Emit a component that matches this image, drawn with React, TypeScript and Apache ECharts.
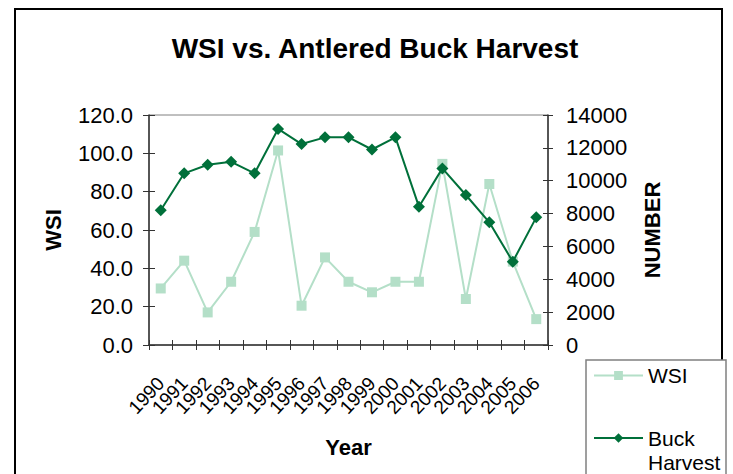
import React, { useEffect, useRef } from "react";
import * as echarts from "echarts";

const years = ["1990", "1991", "1992", "1993", "1994", "1995", "1996", "1997", "1998", "1999", "2000", "2001", "2002", "2003", "2004", "2005", "2006"];
const wsiValues = [29.5, 44, 17, 33, 59, 101.5, 20.5, 45.7, 33, 27.5, 33, 33, 94.5, 24, 84, 43.5, 13.5];
const buckValues = [8200, 10450, 10970, 11150, 10450, 13150, 12230, 12640, 12640, 11900, 12640, 8420, 10750, 9130, 7470, 5070, 7770];

const FONT = "'Liberation Sans', Arial, sans-serif";
const DARK = "#00703a";
const LIGHT = "#b4dfc8";

export default function App() {
  const ref = useRef<HTMLDivElement>(null);
  useEffect(() => {
    if (!ref.current) return;
    const chart = echarts.init(ref.current, null, { renderer: "svg" });
    const axisLine = { show: true, lineStyle: { color: "#333", width: 1.5 } };
    chart.setOption({
      animation: false,
      backgroundColor: "#fff",
      textStyle: { fontFamily: FONT },
      title: {
        text: "WSI vs. Antlered Buck Harvest",
        left: 370,
        textAlign: "center",
        top: 29,
        textStyle: { fontFamily: FONT, fontWeight: "bold", fontSize: 28, color: "#000" },
      },
      grid: {
        left: 149,
        right: 185,
        top: 115,
        bottom: 129,
        show: true,
        borderColor: "#808080",
        borderWidth: 1,
      },
      legend: [
        {
          data: ["WSI"],
          left: 593,
          top: 365,
          padding: 0,
          itemWidth: 49,
          itemHeight: 11,
          textStyle: { fontFamily: FONT, fontSize: 21, color: "#000" },
        },
        {
          data: ["Buck Harvest"],
          left: 593,
          top: 402,
          padding: 0,
          itemWidth: 49,
          itemHeight: 12,
          formatter: () => "\nBuck\nHarvest",
          textStyle: { fontFamily: FONT, fontSize: 21, color: "#000", lineHeight: 24 },
        },
      ],
      xAxis: [
        {
          type: "category",
          data: years,
          boundaryGap: true,
          position: "bottom",
          name: "Year",
          nameLocation: "middle",
          nameGap: 91,
          nameTextStyle: { fontFamily: FONT, fontWeight: "bold", fontSize: 22, color: "#000" },
          axisLine,
          axisTick: { show: true, alignWithLabel: false, interval: 0, length: 5, lineStyle: { color: "#333" } },
          axisLabel: { interval: 0, rotate: 47, margin: 35, fontFamily: FONT, fontSize: 19, color: "#000" },
          splitLine: { show: false },
        },
        {
          type: "category",
          data: years,
          boundaryGap: true,
          position: "bottom",
          axisLine: { show: false },
          axisTick: { show: true, inside: true, interval: 0, length: 5, lineStyle: { color: "#333" } },
          axisLabel: { show: false },
          splitLine: { show: false },
        },
      ],
      yAxis: [
        {
          type: "value",
          min: 0,
          max: 120,
          interval: 20,
          position: "left",
          name: "WSI",
          nameLocation: "middle",
          nameRotate: 90,
          nameGap: 85,
          nameTextStyle: { fontFamily: FONT, fontWeight: "bold", fontSize: 22, color: "#000" },
          axisLine,
          axisTick: { show: true, length: 6, lineStyle: { color: "#333" } },
          axisLabel: { formatter: (v: number) => v.toFixed(1), margin: 16, fontFamily: FONT, fontSize: 22, color: "#000" },
          splitLine: { show: false },
        },
        {
          type: "value",
          min: 0,
          max: 14000,
          interval: 2000,
          position: "right",
          name: "NUMBER",
          nameLocation: "middle",
          nameRotate: 90,
          nameGap: 93,
          nameTextStyle: { fontFamily: FONT, fontWeight: "bold", fontSize: 22, color: "#000" },
          axisLine,
          axisTick: { show: true, length: 5, lineStyle: { color: "#333" } },
          axisLabel: { formatter: (v: number) => String(v), margin: 18, fontFamily: FONT, fontSize: 22, color: "#000" },
          splitLine: { show: false },
        },
        {
          type: "value",
          min: 0,
          max: 120,
          interval: 20,
          position: "left",
          axisLine: { show: false },
          axisTick: { show: true, inside: true, length: 6, lineStyle: { color: "#333" } },
          axisLabel: { show: false },
          splitLine: { show: false },
        },
        {
          type: "value",
          min: 0,
          max: 14000,
          interval: 2000,
          position: "right",
          axisLine: { show: false },
          axisTick: { show: true, inside: true, length: 5, lineStyle: { color: "#333" } },
          axisLabel: { show: false },
          splitLine: { show: false },
        },
      ],
      series: [
        {
          name: "WSI",
          type: "line",
          xAxisIndex: 0,
          yAxisIndex: 0,
          data: wsiValues,
          symbol: "rect",
          symbolSize: 10,
          showAllSymbol: true,
          itemStyle: { color: LIGHT },
          lineStyle: { color: LIGHT, width: 2 },
          z: 2,
        },
        {
          name: "Buck Harvest",
          type: "line",
          xAxisIndex: 0,
          yAxisIndex: 1,
          data: buckValues,
          symbol: "diamond",
          symbolSize: 12,
          showAllSymbol: true,
          itemStyle: { color: DARK },
          lineStyle: { color: DARK, width: 2 },
          z: 3,
        },
      ],
      graphic: [
        {
          type: "rect",
          shape: { x: 15, y: 9, width: 707, height: 480 },
          style: { fill: "none", stroke: "#000", lineWidth: 2 },
          silent: true,
          z: -1,
        },
        {
          type: "rect",
          shape: { x: 586, y: 360, width: 140, height: 130 },
          style: { fill: "#fff", stroke: "#808080", lineWidth: 1.5 },
          silent: true,
          z: -1,
        },
      ],
    });
    return () => chart.dispose();
  }, []);
  return (
    <div
      ref={ref}
      style={{ position: "absolute", left: 0, top: 0, width: 733, height: 474 }}
    />
  );
}
